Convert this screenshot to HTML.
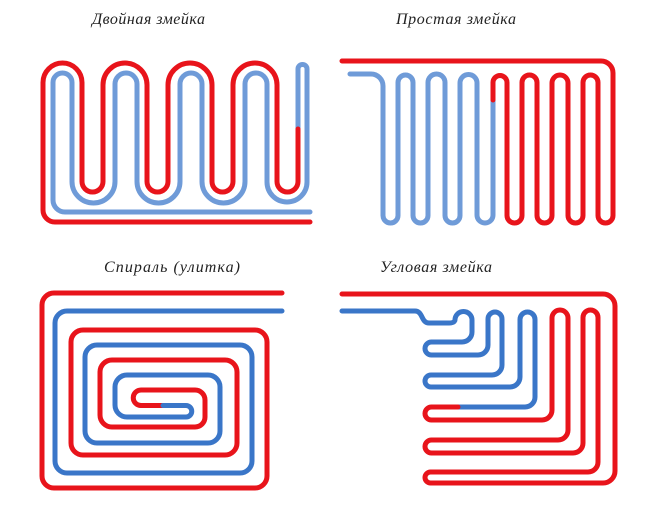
<!DOCTYPE html>
<html><head><meta charset="utf-8"><style>
html,body{margin:0;padding:0;background:#fff;}
svg{display:block;}
text{font-family:"Liberation Serif",serif;font-style:italic;font-size:16px;fill:#222;}
</style></head><body>
<svg width="670" height="505" viewBox="0 0 670 505" xmlns="http://www.w3.org/2000/svg">
<text x="92" y="24" textLength="113">Двойная змейка</text>
<text x="396" y="24" textLength="120">Простая змейка</text>
<text x="104" y="272" textLength="136">Спираль (улитка)</text>
<text x="380" y="272" textLength="112">Угловая змейка</text>
<g fill="none" stroke-width="5" stroke-linecap="round" stroke-linejoin="round">
<!-- Panel 1 -->
<path stroke="#6f9bd8" d="M310,212 H65 A12 12 0 0 1 53 200 V82.5 A9.5 9.5 0 0 1 72 82.5 V181.5 A21.5 21.5 0 0 0 115 181.5 V84 A11 11 0 0 1 137 84 V181.5 A21.5 21.5 0 0 0 180 181.5 V84 A11 11 0 0 1 202 84 V181.5 A21.5 21.5 0 0 0 245 181.5 V84 A11 11 0 0 1 267 84 V182 A20 20 0 0 0 307 182 V69 A4.5 4.5 0 0 0 298 69 V129"/>
<path stroke="#e8141b" d="M310,222 H55 A12 12 0 0 1 43 210 V82.5 A19.5 19.5 0 0 1 82 82.5 V181.5 A10.5 10.5 0 0 0 103 181.5 V85 A22 22 0 0 1 147 85 V181.5 A10.5 10.5 0 0 0 168 181.5 V85 A22 22 0 0 1 212 85 V181.5 A10.5 10.5 0 0 0 233 181.5 V85 A22 22 0 0 1 277 85 V181.5 A10.5 10.5 0 0 0 298 181.5 V129"/>
<!-- Panel 2 -->
<path stroke="#6f9bd8" d="M350,74 H371 A12 12 0 0 1 383 86 V215.5 A7.5 7.5 0 0 0 398 215.5 V82.5 A7.5 7.5 0 0 1 413 82.5 V215.5 A7.5 7.5 0 0 0 428 215.5 V82.5 A8.5 8.5 0 0 1 445 82.5 V215.5 A7.5 7.5 0 0 0 460 215.5 V83 A8.5 8.5 0 0 1 477 83 V215 A8 8 0 0 0 493 215 V100"/>
<path stroke="#e8141b" d="M493,100 V82.5 A7 7 0 0 1 507 82.5 V215.5 A7.5 7.5 0 0 0 522 215.5 V82.5 A7.5 7.5 0 0 1 537 82.5 V215.5 A7.5 7.5 0 0 0 552 215.5 V83 A8 8 0 0 1 568 83 V215.5 A7.5 7.5 0 0 0 583 215.5 V82.5 A7.5 7.5 0 0 1 598 82.5 V215.5 A7.5 7.5 0 0 0 613 215.5 V73 A12 12 0 0 0 601 61 H342"/>
<!-- Panel 3 -->
<path stroke="#e8141b" d="M282,293 H54 A12 12 0 0 0 42 305 V476 A12 12 0 0 0 54 488 H255 A12 12 0 0 0 267 476 V342 A12 12 0 0 0 255 330 H83 A12 12 0 0 0 71 342 V443 A12 12 0 0 0 83 455 H225 A12 12 0 0 0 237 443 V372 A12 12 0 0 0 225 360 H112 A12 12 0 0 0 100 372 V415 A12 12 0 0 0 112 427 H195 A10 10 0 0 0 205 417 V400 A10 10 0 0 0 195 390 H141 A7.75 7.75 0 0 0 141 405.5 H163"/>
<path stroke="#3a76c8" d="M282,311 H67 A12 12 0 0 0 55 323 V461 A12 12 0 0 0 67 473 H240 A12 12 0 0 0 252 461 V357 A12 12 0 0 0 240 345 H97 A12 12 0 0 0 85 357 V431 A12 12 0 0 0 97 443 H208 A12 12 0 0 0 220 431 V387 A12 12 0 0 0 208 375 H127 A12 12 0 0 0 115 387 V405 A12 12 0 0 0 127 417 H186 A5.75 5.75 0 0 0 186 405.5 H163"/>
<!-- Panel 4 -->
<path stroke="#3a76c8" d="M342,311 H415 C423,311 421,323 429,323 H449 C455,323 455,320 455,320 A8.5 8.5 0 0 1 472 320 V332 A10 10 0 0 1 462 342 H431.5 A6.5 6.5 0 0 0 431.5 355 H478 A10 10 0 0 0 488 345 V319 A7 7 0 0 1 502 319 V365 A10 10 0 0 1 492 375 H431 A6 6 0 0 0 431 387 H510 A10 10 0 0 0 520 377 V319.5 A7.5 7.5 0 0 1 535 319.5 V397 A10 10 0 0 1 525 407 H458"/>
<path stroke="#e8141b" d="M458,407 H431.5 A6.5 6.5 0 0 0 431.5 420 H542 A10 10 0 0 0 552 410 V318 A8 8 0 0 1 568 318 V430 A10 10 0 0 1 558 440 H431.5 A6.5 6.5 0 0 0 431.5 453 H573 A10 10 0 0 0 583 443 V317.5 A7.5 7.5 0 0 1 598 317.5 V462 A10 10 0 0 1 588 472 H430.5 A5.5 5.5 0 0 0 430.5 483 H603 A12 12 0 0 0 615 471 V306 A12 12 0 0 0 603 294 H342"/>
</g>
</svg>
</body></html>
